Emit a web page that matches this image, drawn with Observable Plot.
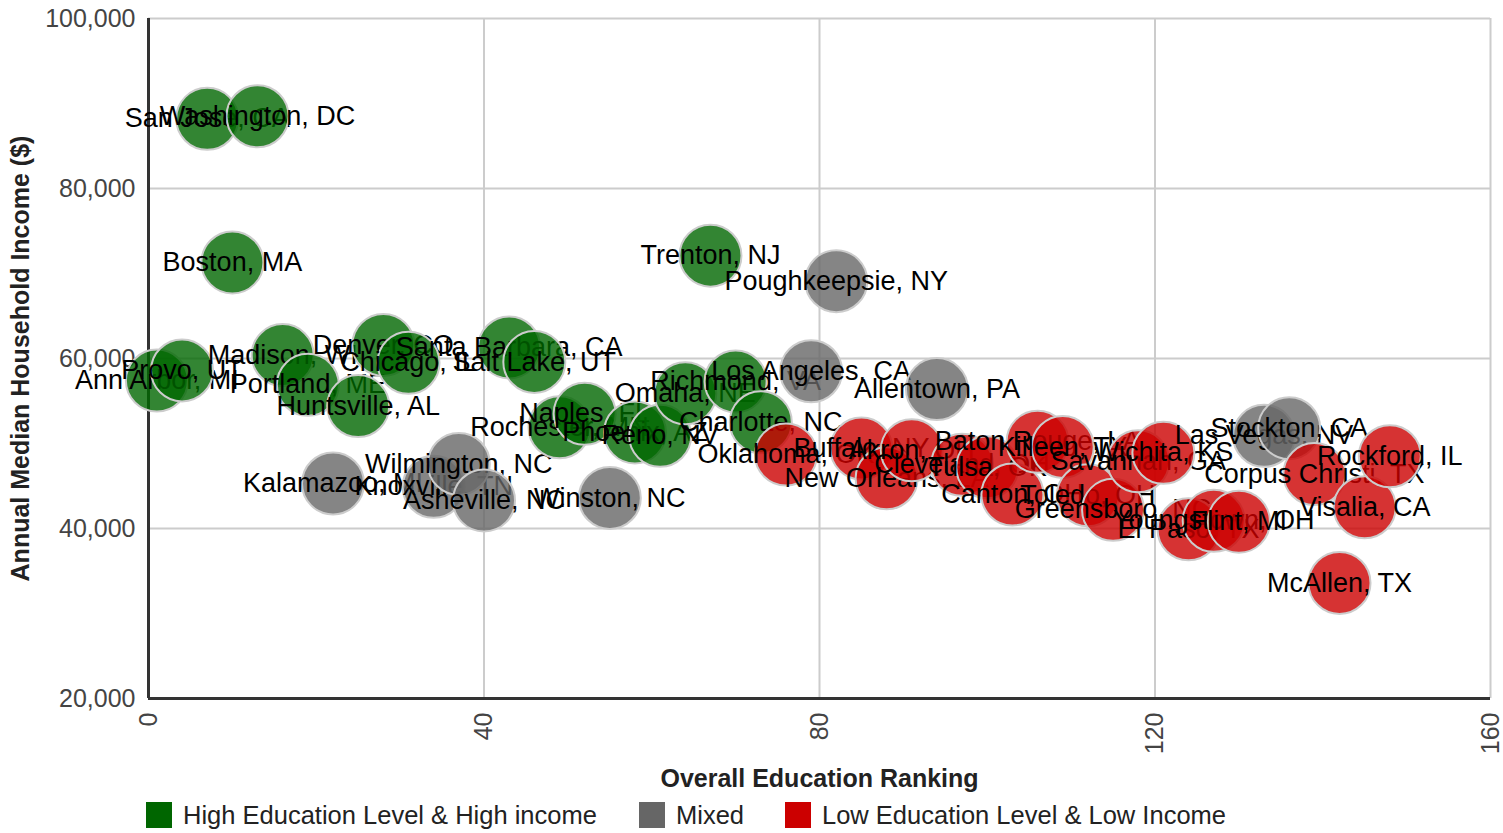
<!DOCTYPE html>
<html>
<head>
<meta charset="utf-8">
<script src="https://cdn.jsdelivr.net/npm/d3@7"></script>
<script src="https://cdn.jsdelivr.net/npm/@observablehq/plot@0.6"></script>
<style>
  html, body { margin: 0; padding: 0; background: #fff; }
  body { width: 1503px; height: 833px; overflow: hidden; font-family: "Liberation Sans", Arial, sans-serif; }
  #legend { position: relative; height: 38px; font-size: 25.5px; color: #222; }
  .item { position: absolute; top: 7px; display: flex; align-items: center; height: 26px; }
  .sw { width: 26px; height: 26px; margin-right: 11px; }
</style>
</head>
<body>
<div id="chart"></div>
<div id="legend"></div>
<script>
const groups = ["High Education Level & High income", "Mixed", "Low Education Level & Low Income"];
const colors = ["#006600", "#666666", "#cc0000"];

const cities = [
  "Ann Arbor, MI", "Provo, UT", "San Jose, CA", "Boston, MA", "Washington, DC",
  "Madison, WI", "Portland, ME", "Kalamazoo, MI", "Huntsville, AL", "Denver, CO",
  "Chicago, IL", "Knoxville, TN", "Wilmington, NC", "Asheville, NC", "Santa Barbara, CA",
  "Salt Lake, UT", "Rochester, MN", "Naples, FL", "Winston, NC", "Phoenix, AZ",
  "Reno, NV", "Omaha, NE", "Trenton, NJ", "Richmond, VA", "Charlotte, NC",
  "Oklahoma, OK", "Los Angeles, CA", "Poughkeepsie, NY", "Buffalo, NY", "New Orleans, LA",
  "Akron, OH", "Allentown, PA", "Cleveland, OH", "Tulsa, OK", "Canton, OH",
  "Baton Rouge, LA", "Killeen, TX", "Toledo, OH", "Greensboro, NC", "Savannah, GA",
  "Wichita, KS", "El Paso, TX", "Youngstown, OH", "Flint, MI", "Las Vegas, NV",
  "Stockton, CA", "Corpus Christi, TX", "McAllen, TX", "Visalia, CA", "Rockford, IL"
];
const ranking = [
  1, 4, 7, 10, 13,
  16, 19, 22, 25, 28,
  31, 34, 37, 40, 43,
  46, 49, 52, 55, 58,
  61, 64, 67, 70, 73,
  76, 79, 82, 85, 88,
  91, 94, 97, 100, 103,
  106, 109, 112, 115, 118,
  121, 124, 127, 130, 133,
  136, 139, 142, 145, 148
];
const income = [
  57400, 58600, 88200, 71300, 88500,
  60400, 56900, 45300, 54400, 61600,
  59500, 44900, 47600, 43300, 61300,
  59600, 51900, 53500, 43600, 51300,
  50900, 55900, 72100, 57300, 52500,
  48700, 58500, 69100, 49400, 45900,
  49200, 56400, 47500, 47200, 44000,
  50200, 49600, 43900, 42200, 47900,
  48900, 39900, 40900, 40800, 50900,
  51800, 46400, 33600, 42500, 48500
];
const category = [
  0, 0, 0, 0, 0,
  0, 0, 1, 0, 0,
  0, 1, 1, 1, 0,
  0, 0, 0, 1, 0,
  0, 0, 0, 0, 0,
  2, 1, 1, 2, 2,
  2, 1, 2, 2, 2,
  2, 2, 2, 2, 2,
  2, 2, 2, 2, 1,
  1, 2, 2, 2, 2
];
const yTicks = [20000, 40000, 60000, 80000, 100000];
const xTicks = [0, 40, 80, 120, 160];

const data = cities.map((c, i) => ({city: c, rank: ranking[i], income: income[i], group: groups[category[i]]}))
  .sort((a, b) => a.rank - b.rank);

const font = "'Liberation Sans', Arial, sans-serif";

// interleave bubble + label in draw order
const pointMarks = [];
for (const d of data) {
  pointMarks.push(Plot.dot([d], {x: "rank", y: "income", r: 31, fill: "group", fillOpacity: 0.8, stroke: "#cccccc", strokeWidth: 2}));
  pointMarks.push(Plot.text([d], {x: "rank", y: "income", text: "city", fontSize: 27, fill: "#000", textAnchor: "middle", lineAnchor: "middle"}));
}

const chart = Plot.plot({
  width: 1503,
  height: 795,
  marginTop: 18,
  marginBottom: 97,
  marginLeft: 148,
  marginRight: 13,
  style: {fontFamily: font, background: "#fff", overflow: "visible"},
  x: {domain: [0, 160], axis: null},
  y: {domain: [20000, 100000], axis: null},
  r: {type: "identity"},
  color: {domain: groups, range: colors},
  marks: [
    Plot.gridY(yTicks.slice(1), {stroke: "#cccccc", strokeOpacity: 1, strokeWidth: 2}),
    Plot.gridX(xTicks.slice(1), {stroke: "#cccccc", strokeOpacity: 1, strokeWidth: 2}),
    Plot.ruleX([0], {stroke: "#333333", strokeWidth: 3}),
    Plot.ruleY([20000], {stroke: "#333333", strokeWidth: 3}),
    Plot.text(yTicks, {x: 0, y: d => d, text: d => d3.format(",")(d), textAnchor: "end", dx: -13, fontSize: 25, fill: "#444444", lineAnchor: "middle"}),
    Plot.text(xTicks, {x: d => d, y: 20000, text: d => String(d), rotate: -90, textAnchor: "end", dy: 14, fontSize: 25, fill: "#444444", lineAnchor: "middle"}),
    Plot.text(["Overall Education Ranking"], {x: 80, y: 20000, dy: 80, fontSize: 25, fontWeight: "bold", fill: "#222222", textAnchor: "middle", lineAnchor: "middle"}),
    Plot.text(["Annual Median Household Income ($)"], {frameAnchor: "left", dx: -128, rotate: -90, fontSize: 25, fontWeight: "bold", fill: "#222222", textAnchor: "middle", lineAnchor: "middle"}),
    ...pointMarks
  ]
});
document.getElementById("chart").appendChild(chart);

// legend
const legendX = [146, 639, 785];
const legend = document.getElementById("legend");
groups.forEach((g, i) => {
  const item = document.createElement("div");
  item.className = "item";
  item.style.left = legendX[i] + "px";
  const sw = document.createElement("div");
  sw.className = "sw";
  sw.style.background = colors[i];
  const t = document.createElement("span");
  t.textContent = g;
  item.appendChild(sw);
  item.appendChild(t);
  legend.appendChild(item);
});
</script>
</body>
</html>
